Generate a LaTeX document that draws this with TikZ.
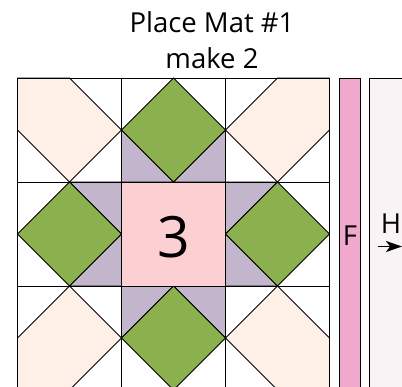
\documentclass[tikz,border=0pt]{standalone}
\usepackage{fontspec}
\setmainfont{Open Sans}
\usetikzlibrary{arrows.meta}
\definecolor{peach}{HTML}{FEF0E7}
\definecolor{leaf}{HTML}{8AB14E}
\definecolor{lilac}{HTML}{C3B5CB}
\definecolor{rose}{HTML}{FCD0D2}
\definecolor{stripF}{HTML}{F0A8CD}
\definecolor{stripH}{HTML}{FAF3F6}
\tikzset{
  patch/.style={draw=black, line width=0.9pt, line join=miter},
  lbl/.style={font=\fontsize{27.5}{27.5}\selectfont, inner sep=0pt, anchor=base},
}
\begin{document}
\begin{tikzpicture}[x=1pt,y=-1pt]
\useasboundingbox (0,0) rectangle (402,386);
\fill[white] (0,0) rectangle (402,386);
\clip (0,0) rectangle (402,386);
% strips
\fill[stripH, draw=black, line width=0.9pt] (369.5,78) rectangle (420,400);
\fill[stripF, draw=black, line width=0.9pt] (339.5,78) rectangle (360.5,400);
\begin{scope}[shift={(17.5,78)}, x=104pt, y=-104pt]
  % peach corners
  \filldraw[patch, fill=peach] (0,0) -- (0.5,0) -- (1,0.5) -- (0.5,1) -- (0,0.5) -- cycle;
  \filldraw[patch, fill=peach] (3,0) -- (3,0.5) -- (2.5,1) -- (2,0.5) -- (2.5,0) -- cycle;
  \filldraw[patch, fill=peach] (0,3) -- (0,2.5) -- (0.5,2) -- (1,2.5) -- (0.5,3) -- cycle;
  \filldraw[patch, fill=peach] (3,3) -- (2.5,3) -- (2,2.5) -- (2.5,2) -- (3,2.5) -- cycle;
  % lilac triangles
  \filldraw[patch, fill=lilac] (1,0.5) -- (1,1) -- (1.5,1) -- cycle;
  \filldraw[patch, fill=lilac] (2,0.5) -- (2,1) -- (1.5,1) -- cycle;
  \filldraw[patch, fill=lilac] (0.5,1) -- (1,1) -- (1,1.5) -- cycle;
  \filldraw[patch, fill=lilac] (0.5,2) -- (1,2) -- (1,1.5) -- cycle;
  \filldraw[patch, fill=lilac] (2,1) -- (2.5,1) -- (2,1.5) -- cycle;
  \filldraw[patch, fill=lilac] (2,2) -- (2.5,2) -- (2,1.5) -- cycle;
  \filldraw[patch, fill=lilac] (1,2) -- (1.5,2) -- (1,2.5) -- cycle;
  \filldraw[patch, fill=lilac] (2,2) -- (1.5,2) -- (2,2.5) -- cycle;
  % green diamonds
  \foreach \cx/\cy in {1.5/0.5, 0.5/1.5, 2.5/1.5, 1.5/2.5}
    \filldraw[patch, fill=leaf] (\cx,\cy-0.5) -- (\cx+0.5,\cy) -- (\cx,\cy+0.5) -- (\cx-0.5,\cy) -- cycle;
  % centre
  \filldraw[patch, fill=rose] (1,1) rectangle (2,2);
  % grid
  \draw[patch] (0,0) rectangle (3,3);
  \foreach \k in {1,2} {
    \draw[patch] (\k,0) -- (\k,3);
    \draw[patch] (0,\k) -- (3,\k);
  }
  \node[font=\fontsize{57}{57}\selectfont, inner sep=0pt, anchor=base] (three) at (1.5,1.73) {3};
\end{scope}
\node[lbl] (title1) at (212,32) {Place Mat \#1};
\node[lbl] (title2) at (212,68) {make 2};
\node[lbl] (labF) at (350,245) {F};
\node[lbl] (labH) at (391,233) {H};
\coordinate (arrS) at (378,246.5);
\coordinate (arrE) at (402,246.5);
\draw[line width=1.8pt, -{Stealth[length=16pt,width=11pt,inset=4pt]}] (arrS) -- (arrE);
\end{tikzpicture}
\end{document}
